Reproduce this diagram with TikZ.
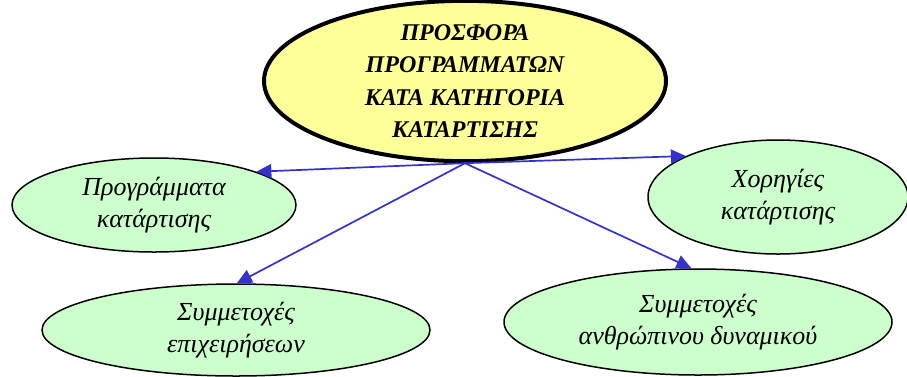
\documentclass[tikz,border=0pt]{standalone}
\usepackage{fontspec}
\setmainfont{Liberation Serif}
\usepackage{xcolor}
\usetikzlibrary{shapes.geometric, arrows.meta}

\definecolor{topyellow}{HTML}{FFFF99}
\definecolor{leafgreen}{HTML}{CCFFCC}
\definecolor{linkblue}{HTML}{3333CC}

\begin{document}
\begin{tikzpicture}[
    x=1pt, y=-1pt,
    mainnode/.style={draw, ellipse, line width=4pt, fill=topyellow, align=center, inner sep=0pt,
        font=\fontsize{24}{32.5}\selectfont\bfseries\itshape, minimum width=402pt, minimum height=136pt},
    leaf/.style={draw, ellipse, line width=1.5pt, fill=leafgreen, align=center, inner sep=0pt,
        font=\fontsize{26}{32}\selectfont\itshape},
    arrow/.style={-{Triangle[length=15pt,width=14pt]}, line width=1.7pt, draw=linkblue, fill=linkblue}
]
\useasboundingbox (0,0) rectangle (907,376);

\node (offer) [mainnode] at (465,81) {ΠΡΟΣΦΟΡΑ\\ΠΡΟΓΡΑΜΜΑΤΩΝ\\ΚΑΤΑ ΚΑΤΗΓΟΡΙΑ\\ΚΑΤΑΡΤΙΣΗΣ};
\node (programs) [leaf, minimum width=284pt, minimum height=94pt] at (154,205) {Προγράμματα\\κατάρτισης};
\node (grants) [leaf, minimum width=260pt, minimum height=114pt] at (778,197) {Χορηγίες\\κατάρτισης};
\node (firms) [leaf, minimum width=388pt, minimum height=92pt] at (236,330) {Συμμετοχές\\επιχειρήσεων};
\node (staff) [leaf, minimum width=388pt, minimum height=106pt] at (698,322) {Συμμετοχές\\ανθρώπινου δυναμικού};

\draw [arrow] (offer.south) -- (programs.18);
\draw [arrow] (offer.south) -- (grants.156);
\draw [arrow] (offer.south) -- (firms.89);
\draw [arrow] (offer.south) -- (staff.97);

\end{tikzpicture}
\end{document}
